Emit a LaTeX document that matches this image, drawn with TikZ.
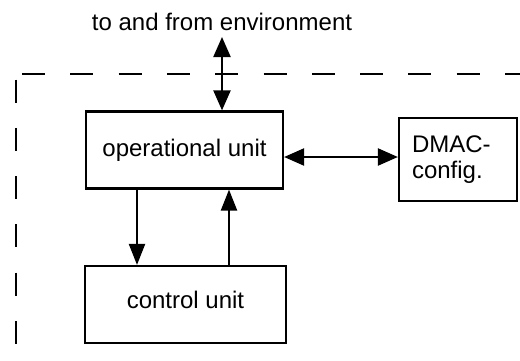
\documentclass[tikz,border=0pt]{standalone}
\usepackage{fontspec}
\setmainfont{Liberation Sans}
\usetikzlibrary{arrows.meta,positioning}
\tikzset{
  unitbox/.style={draw, line width=2.2pt, align=center, inner sep=3pt,
    font=\fontsize{24}{26}\selectfont},
  labeltext/.style={inner sep=2pt, font=\fontsize{24}{26}\selectfont},
  arr/.style={-{Triangle[length=21pt,width=16pt]}, line width=2.2pt},
  duplexarr/.style={{Triangle[length=20pt,width=17pt]}-{Triangle[length=20pt,width=17pt]}, line width=2.2pt},
  boundary/.style={line width=2.2pt, dash pattern=on 23pt off 25.3pt}
}
\begin{document}
\begin{tikzpicture}[x=1pt,y=-1pt]
  \useasboundingbox (0,0) rectangle (520,360);
  % system boundary
  \draw[boundary] (22,74) -- (520,74);
  \draw[boundary] (15.7,79.5) -- (15.7,352);
  % units
  \node[unitbox, minimum width=197pt, minimum height=77pt] (ou) at (184.5,150) {operational unit};
  \node[unitbox, text depth=9pt, minimum width=201pt, minimum height=77pt] (cu) at (185.5,304.5) {control unit};
  \node[unitbox, align=left, text width=92pt, minimum width=118pt, minimum height=83pt] (dmac) at (458,159.5) {DMAC-\\config.};
  \node[labeltext] (env) at (222,22) {to and from environment};
  \coordinate (envtip) at (222,37);
  % connections
  \draw[duplexarr] (envtip) -- (envtip |- ou.north);
  \draw[duplexarr] ([yshift=-7pt]ou.east) -- ([yshift=-7pt]ou.east -| dmac.west);
  \draw[arr] ([xshift=-47.5pt]ou.south) -- ([xshift=-47.5pt]ou.south |- cu.north);
  \draw[arr] ([xshift=43.5pt]cu.north) -- ([xshift=43.5pt]cu.north |- ou.south);
\end{tikzpicture}
\end{document}
